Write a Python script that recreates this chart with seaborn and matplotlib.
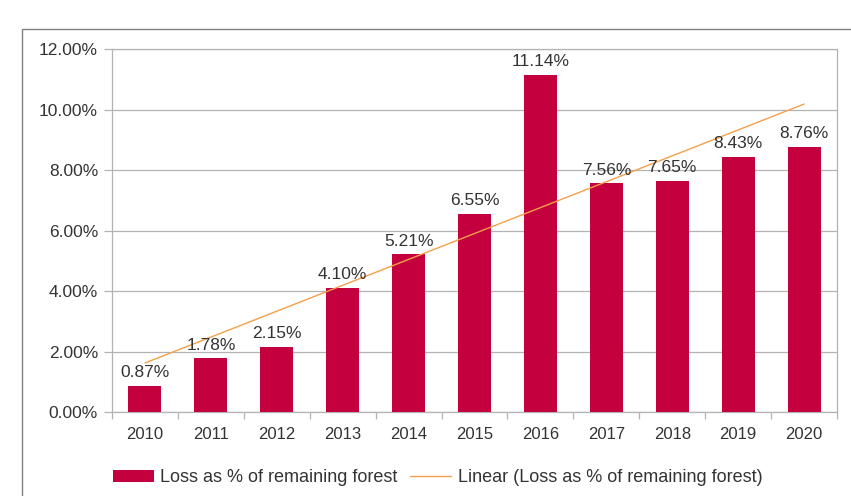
import matplotlib
matplotlib.use("Agg")
import matplotlib.pyplot as plt
import seaborn as sns
import pandas as pd
from matplotlib.patches import Patch, Rectangle
from matplotlib.lines import Line2D
from matplotlib.ticker import FixedLocator

years = ["2010", "2011", "2012", "2013", "2014", "2015", "2016", "2017", "2018", "2019", "2020"]
loss_pct = [0.87, 1.78, 2.15, 4.10, 5.21, 6.55, 11.14, 7.56, 7.65, 8.43, 8.76]
trend_x = [0, 10]
trend_y = [1.62, 10.18]
yticks = [0, 2, 4, 6, 8, 10, 12]

series_name = "Loss as % of remaining forest"
trend_name = "Linear (Loss as % of remaining forest)"

bar_color = "#C5003F"
trend_color = "#F5A04A"
grid_color = "#B3B3B3"
text_color = "#333333"

sns.set_theme(style="white")
plt.rcParams["font.family"] = ["Liberation Sans", "DejaVu Sans"]

fig = plt.figure(figsize=(8.51, 4.96), dpi=100)
ax = fig.add_axes([112 / 851, (496 - 412) / 496, (837 - 112) / 851, (412 - 49) / 496])

df = pd.DataFrame({"year": years, "loss": loss_pct})
sns.barplot(data=df, x="year", y="loss", color=bar_color, saturation=1,
            width=0.5, ax=ax, zorder=3)
for p in ax.patches:
    p.set_edgecolor("none")

sns.lineplot(x=trend_x, y=trend_y, color=trend_color, linewidth=1.0, ax=ax, zorder=4)

for i, v in enumerate(loss_pct):
    ax.annotate(f"{v:.2f}%", (i, v), xytext=(0, 4), textcoords="offset points",
                ha="center", va="bottom", fontsize=12.5, color=text_color, zorder=5)

ax.set_xlim(-0.5, len(years) - 0.5)
ax.set_ylim(0, 12)
ax.set_yticks(yticks)
ax.set_yticklabels([f"{t:.2f}%" for t in yticks])
ax.set_xticks(range(len(years)))
ax.set_xticklabels(years)
ax.xaxis.set_minor_locator(FixedLocator([i - 0.5 for i in range(len(years) + 1)]))
ax.set_xlabel("")
ax.set_ylabel("")

ax.yaxis.grid(True, color=grid_color, linewidth=0.9, zorder=0)
ax.set_axisbelow(True)
for s in ["left", "right", "top", "bottom"]:
    ax.spines[s].set_visible(True)
    ax.spines[s].set_color(grid_color)
    ax.spines[s].set_linewidth(0.9)

ax.tick_params(axis="y", which="major", length=6, width=0.9, color=grid_color,
               pad=4, labelsize=12.5, labelcolor=text_color, left=True)
ax.tick_params(axis="x", which="major", length=0, pad=11, labelsize=12,
               labelcolor=text_color, bottom=True)
ax.tick_params(axis="x", which="minor", length=5, width=0.9, color=grid_color,
               bottom=True)

handles = [Patch(facecolor=bar_color, edgecolor="none"),
           Line2D([0], [0], color=trend_color, linewidth=1.0)]
fig.legend(handles, [series_name, trend_name], loc="center",
           bbox_to_anchor=(437.5 / 851, (496 - 478) / 496), ncol=2, frameon=False,
           fontsize=13, handlelength=2.27, handleheight=0.6, columnspacing=0.7,
           handletextpad=0.35, labelcolor=text_color)

fig.patches.append(Rectangle((21.5 / 851, -0.2), 1.2, (496 - 28.5) / 496 + 0.2,
                             transform=fig.transFigure, fill=False,
                             edgecolor="#808080", linewidth=1.0, zorder=0))

fig.savefig("out.png", dpi=100)
